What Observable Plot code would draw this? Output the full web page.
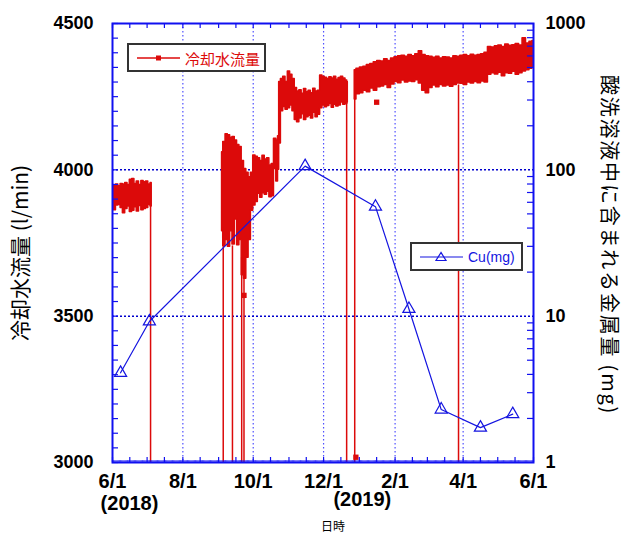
<!DOCTYPE html>
<html><head><meta charset="utf-8">
<script src="https://cdn.jsdelivr.net/npm/d3@7"></script>
<script src="https://cdn.jsdelivr.net/npm/@observablehq/plot@0.6"></script>
<style>
body{margin:0;background:#fff;}
#wrap{position:relative;width:624px;height:536px;overflow:hidden;}
#wrap > svg{position:absolute;left:0;top:0;background:transparent;}
#wrap svg.leg{position:absolute;}
</style></head><body><div id="wrap"></div>
<script>
// ---- cooling water flow (l/min): band of low/high readings per segment ----
const segADates = ["2018-06-01","2018-06-03","2018-06-05","2018-06-07","2018-06-09","2018-06-11","2018-06-13","2018-06-15","2018-06-17","2018-06-19","2018-06-21","2018-06-23","2018-06-25","2018-06-27","2018-06-29","2018-07-01","2018-07-03","2018-07-05"];
const segALow  = [3885,3862,3878,3880,3870,3852,3866,3875,3856,3860,3872,3858,3876,3862,3866,3870,3880,3875];
const segAHigh = [3948,3945,3950,3944,3952,3950,3955,3948,3966,3969,3952,3960,3948,3962,3958,3960,3950,3955];

const segBDates = ["2018-09-04","2018-09-06","2018-09-08","2018-09-10","2018-09-12","2018-09-14","2018-09-16","2018-09-18","2018-09-20","2018-09-22","2018-09-24","2018-09-26","2018-09-28","2018-09-30","2018-10-02","2018-10-04","2018-10-06","2018-10-08","2018-10-10","2018-10-12","2018-10-14","2018-10-16","2018-10-18","2018-10-20","2018-10-22","2018-10-23",
  "2018-10-24","2018-10-26","2018-10-28","2018-10-30","2018-11-01","2018-11-03","2018-11-05","2018-11-07","2018-11-09","2018-11-11","2018-11-13","2018-11-15","2018-11-17","2018-11-19","2018-11-21","2018-11-23","2018-11-25","2018-11-27","2018-11-29","2018-12-01","2018-12-03","2018-12-05","2018-12-07","2018-12-09","2018-12-11","2018-12-13","2018-12-15","2018-12-17","2018-12-19","2018-12-21","2018-12-22"];
const segBLow  = [3790,3740,3760,3737,3790,3745,3830,3742,3760,3640,3628,3700,3760,3860,3878,3890,3918,3905,3920,3915,3925,3906,3910,4003,3960,4000,
  4090,4200,4215,4205,4210,4220,4200,4170,4163,4175,4190,4170,4180,4185,4175,4195,4180,4188,4210,4220,4214,4218,4225,4212,4222,4216,4220,4230,4222,4225,4230];
const segBHigh = [4060,4095,4122,4118,4110,4112,4100,4085,4078,4030,4003,3990,3975,3990,4049,4045,4040,4030,4048,4035,4040,4015,4020,4106,4100,4115,
  4300,4310,4318,4300,4336,4325,4310,4280,4268,4272,4260,4276,4265,4270,4262,4277,4268,4270,4322,4318,4315,4310,4316,4312,4318,4308,4314,4318,4312,4305,4300];

const segCDates = ["2018-12-28","2018-12-31","2019-01-03","2019-01-06","2019-01-09","2019-01-12","2019-01-15","2019-01-18","2019-01-21","2019-01-24","2019-01-27","2019-01-30","2019-02-02","2019-02-05","2019-02-08","2019-02-11","2019-02-14","2019-02-17","2019-02-20","2019-02-23","2019-02-26","2019-03-01","2019-03-04","2019-03-07","2019-03-10","2019-03-13","2019-03-16","2019-03-19","2019-03-22","2019-03-25","2019-03-28","2019-03-31","2019-04-03","2019-04-06","2019-04-09","2019-04-12","2019-04-15","2019-04-18","2019-04-21","2019-04-24","2019-04-27","2019-04-30","2019-05-03","2019-05-06","2019-05-09","2019-05-12","2019-05-15","2019-05-18","2019-05-21","2019-05-24","2019-05-27","2019-05-30","2019-06-01"];
const segCLow  = [4240,4258,4262,4270,4265,4278,4270,4282,4285,4290,4280,4292,4300,4296,4305,4298,4302,4300,4306,4295,4270,4262,4280,4288,4282,4290,4285,4288,4284,4290,4295,4294,4290,4298,4295,4300,4296,4302,4298,4325,4330,4326,4332,4320,4330,4328,4335,4325,4330,4336,4340,4345,4350];
const segCHigh = [4340,4345,4350,4352,4358,4362,4368,4372,4370,4378,4372,4380,4385,4388,4390,4386,4392,4388,4395,4405,4392,4388,4386,4383,4386,4380,4385,4384,4380,4388,4386,4390,4392,4388,4393,4390,4392,4395,4400,4420,4418,4422,4425,4420,4428,4424,4426,4430,4425,4450,4432,4438,4440];

// flow drop-outs (line falls below 3000)
const dropDates = ["2018-07-04","2018-09-05","2018-09-13","2018-09-21","2018-09-23","2018-12-21","2018-12-28","2019-03-28"];
const dropTops  = [3880,3800,3740,3700,3630,4230,4250,4290];
// isolated flow readings
const outDates  = ["2018-09-23","2018-12-29","2019-01-16"];
const outValues = [3571,3018,4231];

// ---- Cu in pickling solution (mg) ----
const cuDates  = ["2018-06-08","2018-07-03","2018-11-15","2019-01-15","2019-02-13","2019-03-13","2019-04-16","2019-05-14"];
const cuValues = [4.1,9.2,106,56,11.2,2.3,1.73,2.14];

// ---- axes ----
const xLabelDates = ["2018-06-01","2018-08-01","2018-10-01","2018-12-01","2019-02-01","2019-04-01","2019-06-01"];
const xGridDates  = ["2018-08-01","2018-10-01","2018-12-01","2019-02-01","2019-04-01"];
const yLeftTicks  = [3000,3500,4000,4500];
const yGrid       = [3500,4000];
const yRightTicks = [1,10,100,1000];
const yRightMinor = [2,3,4,5,6,7,8,9,20,30,40,50,60,70,80,90,200,300,400,500,600,700,800,900];
const yearLabels  = ["(2018)","(2019)"];
const yearDates   = ["2018-06-01","2019-01-01"];

const W=624,H=536,ML=112,MR=91,MT=23,MB=74;
const PW=W-ML-MR, PH=H-MT-MB;
const xDomain=[new Date("2018-06-01"),new Date("2019-06-01")];
const RED="#dc0a0a", BLUE="#1414e0", FRAME="#1010f0";
const JP="'Noto Sans CJK JP', 'Noto Sans', sans-serif";
const NUM="'Liberation Sans', Arial, sans-serif";

const flow = [];
[[segADates,segALow,segAHigh],[segBDates,segBLow,segBHigh],[segCDates,segCLow,segCHigh]].forEach(([ds,lo,hi],s)=>{
  ds.forEach((d,i)=>flow.push({date:new Date(d),low:lo[i],high:hi[i],seg:s}));
});
const drops = dropDates.map((d,i)=>({date:new Date(d),top:dropTops[i]}));
const outs = outDates.map((d,i)=>({date:new Date(d),value:outValues[i]}));
const cu = cuDates.map((d,i)=>({date:new Date(d),value:cuValues[i]}));

const monthStarts = d3.utcMonth.range(xDomain[0], d3.utcDay.offset(xDomain[1],1));
const minorX = monthStarts.flatMap(m=>[m,d3.utcDay.offset(m,15)]).filter(d=>d<=xDomain[1]);
const dailyX = d3.utcDay.range(xDomain[0], xDomain[1]);

const p1 = Plot.plot({
  width:W,height:H,marginLeft:ML,marginRight:MR,marginTop:MT,marginBottom:MB,
  style:{fontFamily:NUM,background:"transparent",color:"#000"},
  x:{type:"utc",domain:xDomain},
  y:{domain:[3000,4500]},
  marks:[
    Plot.ruleX(xGridDates.map(d=>new Date(d)),{stroke:"#5050ff",strokeDasharray:"1.5,2.5",strokeWidth:1.2}),
    Plot.ruleY(yGrid,{stroke:"#0000cc",strokeDasharray:"2,2",strokeWidth:1.5}),
    Plot.areaY(flow,{x:"date",y1:"low",y2:"high",z:"seg",fill:RED,stroke:RED,strokeWidth:1.5,curve:"step",clip:true}),
    Plot.ruleX(drops,{x:"date",y1:3000,y2:"top",stroke:RED,strokeWidth:1.5,clip:true}),
    Plot.dot(outs,{x:"date",y:"value",symbol:"square",fill:RED,r:3}),
    Plot.frame({stroke:FRAME,strokeWidth:2}),
    Plot.tickX(minorX,{x:d=>d,insetTop:PH-5,stroke:FRAME,strokeWidth:1.2}),
    Plot.tickX(minorX,{x:d=>d,insetBottom:PH-5,stroke:FRAME,strokeWidth:1.2}),
    Plot.tickX(dailyX,{x:d=>d,insetTop:PH-2,stroke:FRAME,strokeWidth:0.7}),
    Plot.tickY(d3.range(3000,4501,50),{y:d=>d,insetRight:PW-6,stroke:FRAME,strokeWidth:1.2}),
    Plot.axisX({ticks:xLabelDates.map(d=>new Date(d)),tickFormat:d3.utcFormat("%-m/%-d"),tickSize:0,tickPadding:11,fontSize:20,fontWeight:"bold",label:null}),
    Plot.axisY({anchor:"left",ticks:yLeftTicks,tickFormat:d=>String(d),tickSize:0,tickPadding:19,fontSize:18,fontWeight:"bold",label:null}),
    Plot.text([yearLabels[0]],{x:()=>new Date(yearDates[0]),text:d=>d,frameAnchor:"bottom",lineAnchor:"middle",textAnchor:"middle",dy:41,dx:17,fontSize:20,fontWeight:"bold"}),
    Plot.text([yearLabels[1]],{x:()=>new Date(yearDates[1]),text:d=>d,frameAnchor:"bottom",lineAnchor:"middle",textAnchor:"middle",dy:37,dx:3,fontSize:20,fontWeight:"bold"}),
    Plot.text(["日時"],{frameAnchor:"bottom",lineAnchor:"middle",textAnchor:"middle",dy:65,dx:10,fontSize:12,fontFamily:JP}),
    Plot.text(["冷却水流量 (l/min)"],{frameAnchor:"left",textAnchor:"middle",lineAnchor:"middle",rotate:-90,dx:-91,dy:10,fontSize:21,fontFamily:JP})
  ]
});

const p2 = Plot.plot({
  width:W,height:H,marginLeft:ML,marginRight:MR,marginTop:MT,marginBottom:MB,
  style:{fontFamily:NUM,background:"transparent",color:"#000"},
  x:{type:"utc",domain:xDomain,axis:null},
  y:{type:"log",domain:[1,1000]},
  marks:[
    Plot.tickY(yRightMinor,{y:d=>d,insetLeft:PW-6,stroke:FRAME,strokeWidth:1.2}),
    Plot.line(cu,{x:"date",y:"value",stroke:BLUE,strokeWidth:1.2}),
    Plot.dot(cu,{x:"date",y:"value",symbol:"triangle",r:4.5,stroke:BLUE,fill:"none",strokeWidth:1.2}),
    Plot.axisY({anchor:"right",ticks:yRightTicks,tickFormat:d=>String(d),tickSize:0,tickPadding:12,fontSize:18,fontWeight:"bold",label:null}),
    Plot.text(["酸洗溶液中に含まれる金属量 (mg)"],{frameAnchor:"right",textAnchor:"middle",lineAnchor:"middle",rotate:90,dx:75,dy:2,fontSize:20,fontFamily:JP})
  ]
});
p2.querySelectorAll("text").forEach(t=>{ if(t.textContent.startsWith("酸洗")) t.setAttribute("letter-spacing","1.8"); });

const wrap=document.getElementById("wrap");
wrap.appendChild(p1);
wrap.appendChild(p2);

// legends
const NS="http://www.w3.org/2000/svg";
function legend(left,top,w,h,draw){
  const s=document.createElementNS(NS,"svg");
  s.setAttribute("class","leg");s.setAttribute("width",w);s.setAttribute("height",h);
  s.style.left=left+"px";s.style.top=top+"px";
  s.innerHTML=`<rect x="1" y="1" width="${w-2}" height="${h-2}" fill="#fff" stroke="#333" stroke-width="2"/>`+draw;
  wrap.appendChild(s);
}
legend(127,43,139,29,
  `<line x1="10" x2="53" y1="15" y2="15" stroke="${RED}" stroke-width="1.5"/>
   <rect x="29" y="12.5" width="5" height="5" fill="${RED}"/>
   <text x="58" y="15" dominant-baseline="central" font-family="${JP.replace(/'/g,"")}" font-size="15" fill="${RED}">冷却水流量</text>`);
legend(410,242,113,29,
  `<line x1="10" x2="53" y1="15" y2="15" stroke="${BLUE}" stroke-width="1.2"/>
   <path d="M31,10.5 L26,18.5 L36,18.5 Z" fill="none" stroke="${BLUE}" stroke-width="1.2"/>
   <text x="58" y="15" dominant-baseline="central" font-family="Liberation Sans, Arial, sans-serif" font-size="14" fill="${BLUE}">Cu(mg)</text>`);
</script></body></html>
